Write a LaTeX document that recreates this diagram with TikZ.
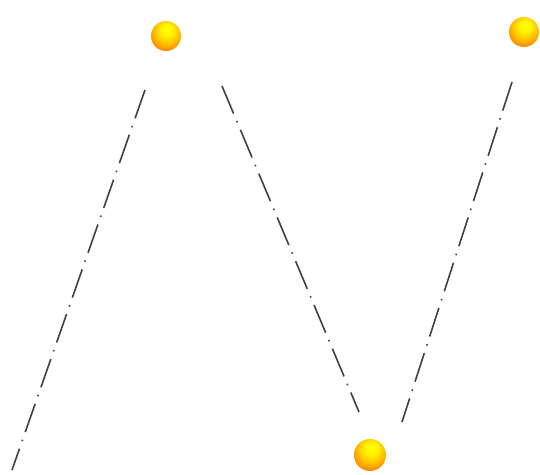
\documentclass[tikz,border=0pt]{standalone}
\usepackage{tikz}

\pgfdeclareradialshading{ballshade}{\pgfpoint{2bp}{12bp}}{%
  color(0bp)=(yellow!95!white); color(10bp)=(yellow!90!orange);
  color(22bp)=(orange!55!yellow); color(34bp)=(orange!90!red); color(60bp)=(orange!65!red)}

\begin{document}
\begin{tikzpicture}[x=1pt, y=-1pt,
ballnode/.style={circle, minimum size=30pt, inner sep=0pt, shading=ballshade},
dashline/.style={line width=1.6pt, black!75, dash pattern=on 30pt off 8pt on 1.5pt off 8pt},
]
\useasboundingbox (0,0) rectangle (540,474);

\node[ballnode]  at(166,36) (top1) {};
\node[ballnode]  at(524,32) (top2) {};
\node[ballnode, minimum size=32pt]  at(370,455) (bottom) {};

\coordinate (a1) at (145,90);
\coordinate (a2) at (12,470);
\coordinate (b1) at (222,86);
\coordinate (b2) at (359,412);
\coordinate (c1) at (512,82);
\coordinate (c2) at (402,422);

\draw[dashline] (a1) -- (a2);
\draw[dashline] (b1) -- (b2);
\draw[dashline] (c1) -- (c2);

\end{tikzpicture}
\end{document}
